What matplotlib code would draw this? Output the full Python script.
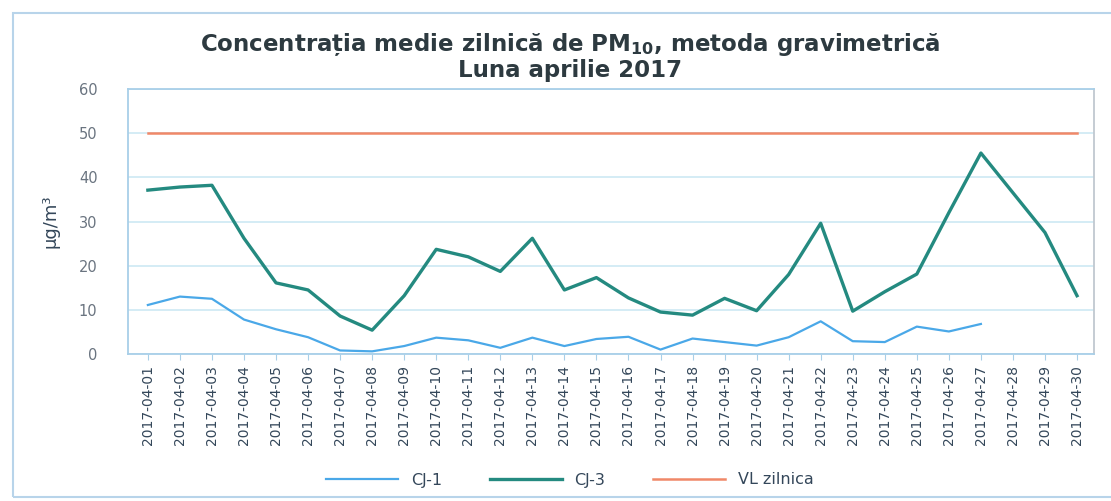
import matplotlib
matplotlib.use("Agg")
import matplotlib.pyplot as plt
from matplotlib.patches import Rectangle
import numpy as np

days = [f"2017-04-{d:02d}" for d in range(1, 31)]

cj1 = [11.1, 13.0, 12.5, 7.8, 5.6, 3.8, 0.8, 0.6, 1.8, 3.7,
       3.1, 1.4, 3.7, 1.8, 3.4, 3.9, 1.0, 3.5, 2.7, 1.9,
       3.8, 7.4, 2.9, 2.7, 6.2, 5.1, 6.8, None, None, None]
cj3 = [37.1, 37.8, 38.2, 26.2, 16.1, 14.5, 8.6, 5.4, 13.2, 23.7,
       22.0, 18.7, 26.2, 14.5, 17.3, 12.7, 9.5, 8.8, 12.6, 9.8,
       18.0, 29.6, 9.7, 14.1, 18.1, 32.0, 45.5, 36.5, 27.5, 13.2]
vl = [50] * 30

series_names = ["CJ-1", "CJ-3", "VL zilnica"]
yticks = [0, 10, 20, 30, 40, 50, 60]

fig = plt.figure(figsize=(11.11, 5.01), dpi=100)
fig.patches.append(Rectangle((13/1111, 1-497/501), 1100/1111, 484/501,
                             transform=fig.transFigure, fill=False,
                             edgecolor="#b8d4ea", linewidth=1.5))

ax = fig.add_axes([128/1111, 1-354/501, (1094-128)/1111, (354-89)/501])
x = list(range(len(days)))
cj1_arr = np.array([np.nan if v is None else v for v in cj1], dtype=float)

l1, = ax.plot(x, cj1_arr, color="#4aa8e8", linewidth=1.6, label=series_names[0])
l3, = ax.plot(x, cj3, color="#248a80", linewidth=2.4, label=series_names[1])
lv, = ax.plot(x, vl, color="#f08868", linewidth=1.8, label=series_names[2])

ax.set_ylim(0, 60)
ax.set_xlim(-0.62, 29.53)
ax.set_yticks(yticks)
ax.set_yticklabels([str(t) for t in yticks], fontsize=10.5, color="#6a7480")
ax.set_xticks(x)
ax.set_xticklabels(days, rotation=90, fontsize=10, color="#34475a")
ax.tick_params(axis="y", length=0, pad=22)
ax.tick_params(axis="x", length=4, color="#a8cfe8", pad=4)
ax.grid(axis="y", color="#cde9f3", linewidth=1.2)
ax.set_axisbelow(True)
for s in ["left", "bottom", "top"]:
    ax.spines[s].set_color("#a8cfe8")
    ax.spines[s].set_linewidth(1.3)
ax.spines["right"].set_color("#c0c8d0")
ax.spines["right"].set_linewidth(1.3)

ax.set_ylabel("µg/m³", fontsize=13, color="#34475a", labelpad=14)

fig.text(570/1111, 1-44/501,
         r"Concentrația medie zilnică de PM$_{\mathbf{10}}$, metoda gravimetrică",
         ha="center", va="center", fontsize=16.5, fontweight="bold", color="#2d3a40")
fig.text(570/1111, 1-71/501, "Luna aprilie 2017",
         ha="center", va="center", fontsize=16.5, fontweight="bold", color="#2d3a40")

fig.legend(handles=[l1, l3, lv], labels=series_names, loc="center",
           bbox_to_anchor=(570/1111, 1-480/501), ncol=3, frameon=False,
           fontsize=11.5, handlelength=4.5, columnspacing=3,
           labelcolor="#34475a")

fig.savefig("out.png", dpi=100)
